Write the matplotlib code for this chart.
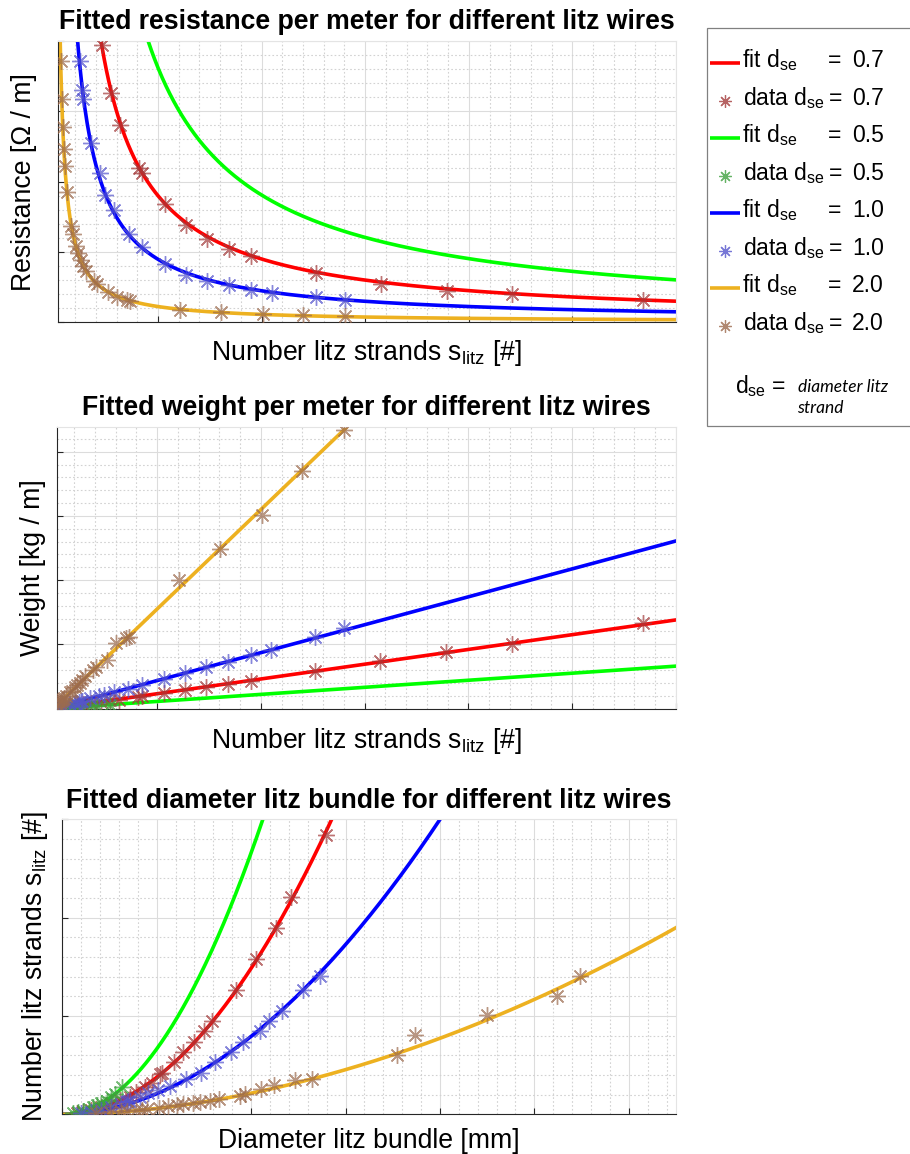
import numpy as np
import matplotlib
matplotlib.use('Agg')
import matplotlib.pyplot as plt
from matplotlib.ticker import MultipleLocator
from matplotlib.patches import Rectangle

plt.rcParams['font.family'] = ['Liberation Sans', 'DejaVu Sans']
plt.rcParams['mathtext.fontset'] = 'custom'
plt.rcParams['mathtext.rm'] = 'Liberation Sans'
plt.rcParams['mathtext.it'] = 'Liberation Sans:italic'
plt.rcParams['mathtext.bf'] = 'Liberation Sans:bold'

# ---------------- data (series order: d_se = 0.7, 0.5, 1.0, 2.0) ----------------
d_se_labels = ['0.7', '0.5', '1.0', '2.0']

# number of litz strands of each measured wire
n_07 = [1, 2.7, 4.4, 7.7, 11.2, 14.5, 17.9, 23.1, 27.5, 31.7, 40.8, 42.5, 53.2, 63.4,
        73.7, 84.3, 95.0, 126.2, 157.6, 189.3, 220.9, 284.0]
n_05 = [1, 2, 3, 5, 7, 9, 11, 14, 18, 21, 27.5]
n_10 = [1, 2.3, 4.7, 7.4, 10.5, 12.3, 13.4, 14.0, 17.7, 21.8, 24.6, 29.0, 35.8, 42.5,
        53.2, 63.4, 73.7, 84.3, 95.0, 104.9, 126.2, 140.2]
n_20 = [1, 2, 3.0, 3.5, 4.2, 4.7, 5.1, 6.0, 8.1, 9.0, 10.2, 11.3, 12.7, 14.0, 15.3, 19.0,
        20.7, 26.0, 30.0, 35.0, 36.4, 60.5, 80.2, 100.6, 120.0, 140.2]

# resistance per meter
R_07 = [90, 33.3, 20.5, 11.7, 8.0, 6.2, 5.0, 3.94, 3.26, 2.80, 2.19, 2.12, 1.68, 1.39,
        1.19, 1.04, 0.94, 0.70, 0.55, 0.45, 0.40, 0.32]
R_05 = [181, 90, 60, 36, 26, 20, 16.5, 13, 10, 8.6, 6.6]
R_10 = [44.8, 19.5, 9.5, 6.05, 4.27, 3.72, 3.30, 3.18, 2.55, 2.13, 1.81, 1.60, 1.25, 1.07,
        0.83, 0.67, 0.59, 0.53, 0.46, 0.42, 0.36, 0.32]
R_20 = [11.2, 5.6, 3.72, 3.18, 2.78, 2.47, 2.22, 1.85, 1.37, 1.25, 1.09, 0.99, 0.88, 0.80,
        0.73, 0.59, 0.54, 0.43, 0.36, 0.31, 0.30, 0.18, 0.14, 0.12, 0.10, 0.085]

# weight per meter
W_07 = [0.005, 0.012, 0.020, 0.035, 0.050, 0.066, 0.080, 0.105, 0.125, 0.140, 0.178, 0.190,
        0.245, 0.290, 0.330, 0.380, 0.430, 0.580, 0.745, 0.880, 1.000, 1.330]
W_05 = [0.002, 0.0045, 0.007, 0.011, 0.016, 0.020, 0.024, 0.031, 0.040, 0.046, 0.060]
W_10 = [0.009, 0.020, 0.041, 0.065, 0.092, 0.108, 0.118, 0.123, 0.156, 0.190, 0.216, 0.255,
        0.310, 0.370, 0.460, 0.560, 0.640, 0.730, 0.830, 0.910, 1.110, 1.260]
W_20 = [0.03, 0.06, 0.09, 0.11, 0.13, 0.15, 0.16, 0.19, 0.25, 0.28, 0.34, 0.37, 0.40, 0.444,
        0.50, 0.60, 0.65, 0.755, 1.016, 1.093, 1.11, 2.0, 2.49, 3.02, 3.70, 4.34]

# diameter of litz bundle
D_07 = [0.8, 1.1, 1.54, 2.07, 2.6, 3.04, 3.57, 3.92, 4.37, 4.77, 5.2, 5.3, 5.89, 6.39,
        6.95, 7.49, 7.92, 9.22, 10.28, 11.3, 12.1, 13.95]
D_05 = [0.55, 0.85, 1.1, 1.4, 1.65, 1.85, 2.05, 2.35, 2.6, 2.8, 3.15]
D_10 = [1.0, 1.54, 2.07, 2.6, 3.13, 3.4, 3.5, 3.57, 4.1, 4.54, 5.07, 5.69, 6.57, 7.37,
        8.1, 8.94, 9.57, 10.45, 10.95, 11.63, 12.77, 13.66]
D_20 = [1.8, 2.5, 3.1, 3.4, 3.9, 4.2, 4.5, 5.1, 5.6, 6.1, 6.4, 6.9, 7.3, 7.8, 8.3, 9.4,
        9.7, 10.5, 11.2, 12.3, 13.2, 17.7, 18.7, 22.5, 26.2, 27.4]

# fitted model coefficients
res_fit_k = [90.0, 181.0, 44.8, 11.2]          # R = k / n
weight_fit_b = [0.0046, 0.0022, 0.0087, 0.031]  # W = b * n
diam_fit_a = [1.555, 2.66, 0.953, 0.303]        # n = a * D^p
diam_fit_p = [1.98, 2.0, 1.92, 1.85]

strands = [n_07, n_05, n_10, n_20]
resist = [R_07, R_05, R_10, R_20]
weight = [W_07, W_05, W_10, W_20]
diam = [D_07, D_05, D_10, D_20]

fit_colors = ['#ff0000', '#00ff00', '#0000ff', '#edb120']
data_colors = ['#a33b3b', '#3fa03f', '#5555cc', '#9c6b4e']

# ---------------- figure ----------------
W, H = 910, 1154
fig = plt.figure(figsize=(W / 100, H / 100), dpi=100)


def add_ax(l, r, t, b):
    return fig.add_axes([l / W, 1 - b / H, (r - l) / W, (b - t) / H])


ax1 = add_ax(57.7, 676, 41, 322.3)
ax2 = add_ax(56.7, 676, 427, 708.5)
ax3 = add_ax(62.3, 676, 819.4, 1114.3)

AST = (8, 2, 0)
LW = 2.6
MS = 12
MEW = 1.0
FS = 19.2

n_line = np.linspace(1.6, 300, 800)
D_line = np.linspace(0, 32.5, 800)

for i in range(4):
    ax1.plot(n_line, res_fit_k[i] / n_line, color=fit_colors[i], lw=LW, zorder=2)
    ax1.plot(strands[i], resist[i], ls='none', marker=AST, ms=MS, mew=MEW,
             color=data_colors[i], alpha=0.7, zorder=3)
    ax2.plot(n_line, weight_fit_b[i] * n_line, color=fit_colors[i], lw=LW, zorder=2)
    ax2.plot(strands[i], weight[i], ls='none', marker=AST, ms=MS, mew=MEW,
             color=data_colors[i], alpha=0.7, zorder=3)
    ax3.plot(D_line, diam_fit_a[i] * D_line ** diam_fit_p[i], color=fit_colors[i],
             lw=LW, zorder=2)
    ax3.plot(diam[i], strands[i], ls='none', marker=AST, ms=MS, mew=MEW,
             color=data_colors[i], alpha=0.7, zorder=3)

ax1.set_xlim(1.6, 300)
ax1.set_ylim(0, 4)
ax2.set_xlim(1.6, 300)
ax2.set_ylim(0, 4.385)
ax3.set_xlim(0, 32.5)
ax3.set_ylim(0, 300)

ax1.xaxis.set_major_locator(MultipleLocator(50))
ax1.xaxis.set_minor_locator(MultipleLocator(10))
ax1.yaxis.set_major_locator(MultipleLocator(1))
ax1.yaxis.set_minor_locator(MultipleLocator(0.2))
ax2.xaxis.set_major_locator(MultipleLocator(50))
ax2.xaxis.set_minor_locator(MultipleLocator(10))
ax2.yaxis.set_major_locator(MultipleLocator(1))
ax2.yaxis.set_minor_locator(MultipleLocator(0.2))
ax3.xaxis.set_major_locator(MultipleLocator(5))
ax3.xaxis.set_minor_locator(MultipleLocator(1))
ax3.yaxis.set_major_locator(MultipleLocator(100))
ax3.yaxis.set_minor_locator(MultipleLocator(20))

for ax in (ax1, ax2, ax3):
    ax.set_axisbelow(True)
    ax.grid(which='major', color='#dcdcdc', lw=0.8, ls='-')
    ax.grid(which='minor', color='#d2d2d2', lw=0.8, ls=(0, (1.5, 2.0)))
    ax.tick_params(which='major', direction='in', length=4.5, width=0.8, color='#262626',
                   labelbottom=False, labelleft=False, top=False, right=False)
    ax.tick_params(which='minor', length=0)
    for s in ('left', 'bottom'):
        ax.spines[s].set_color('#262626')
        ax.spines[s].set_linewidth(0.8)
    for s in ('top', 'right'):
        ax.spines[s].set_color('#e4e4e4')
        ax.spines[s].set_linewidth(0.8)

ax1.set_title('Fitted resistance per meter for different litz wires', fontsize=FS,
              fontweight='bold', pad=8.4)
ax2.set_title('Fitted weight per meter for different litz wires', fontsize=FS,
              fontweight='bold', pad=8.4)
ax3.set_title('Fitted diameter litz bundle for different litz wires', fontsize=FS,
              fontweight='bold', pad=8.4)

xl = r'Number litz strands s$_{\rm litz}$ [#]'
ax1.set_xlabel(xl, fontsize=FS)
ax1.xaxis.set_label_coords(0.5, -0.056)
ax2.set_xlabel(xl, fontsize=FS)
ax2.xaxis.set_label_coords(0.5, -0.061)
ax3.set_xlabel('Diameter litz bundle [mm]', fontsize=FS)
ax3.xaxis.set_label_coords(0.5, -0.046)

ax1.set_ylabel('Resistance [Ω / m]', fontsize=FS)
ax1.yaxis.set_label_coords(-0.0335, 0.5)
ax2.set_ylabel('Weight [kg / m]', fontsize=FS)
ax2.yaxis.set_label_coords(-0.018, 0.5)
ax3.set_ylabel(xl, fontsize=FS)
ax3.yaxis.set_label_coords(-0.02, 0.5)

# ---------------- legend box ----------------
lax = fig.add_axes([0, 0, 1, 1])
lax.set_xlim(0, W)
lax.set_ylim(H, 0)
lax.axis('off')
lax.add_patch(Rectangle((706.7, 28.3), 240, 397.7, facecolor='white',
                        edgecolor='#808080', lw=0.9))
LFS = 16.5
for i in range(4):
    yf = 62.7 + i * 75.0
    yd = yf + 38.3
    lax.plot([710, 739.5], [yf, yf], color=fit_colors[i], lw=LW, solid_capstyle='butt')
    lax.text(741.7, yf + 4, r'fit d$_{\rm se}$', fontsize=LFS, va='baseline')
    lax.text(828, yf + 4, '=', fontsize=LFS, va='baseline')
    lax.text(852, yf + 4, d_se_labels[i], fontsize=LFS, va='baseline')
    lax.plot([725], [yd], ls='none', marker=AST, ms=9, mew=0.9, color=data_colors[i],
             alpha=0.8)
    lax.text(742.7, yd + 4, r'data d$_{\rm se}$', fontsize=LFS, va='baseline')
    lax.text(829, yd + 4, '=', fontsize=LFS, va='baseline')
    lax.text(852, yd + 4, d_se_labels[i], fontsize=LFS, va='baseline')

lax.text(735, 393, r'd$_{\rm se}$ =', fontsize=LFS, va='baseline')
lax.text(797.5, 391.5, 'diameter litz', family=['Lato', 'DejaVu Sans'], style='italic',
         fontsize=12.5, va='baseline')
lax.text(797.5, 413, 'strand', family=['Lato', 'DejaVu Sans'], style='italic',
         fontsize=12.5, va='baseline')

fig.savefig('out.png', dpi=100)
